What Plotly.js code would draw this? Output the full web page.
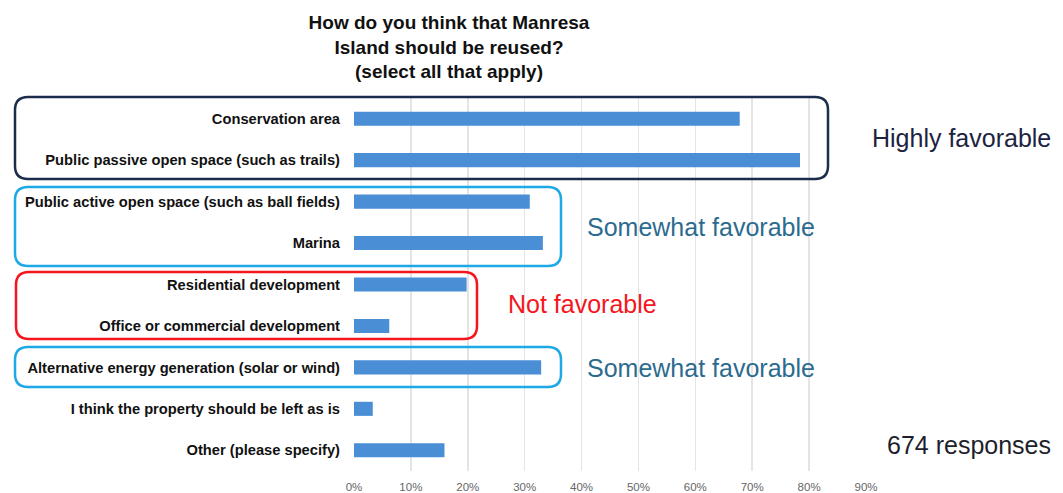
<!DOCTYPE html>
<html>
<head>
<meta charset="utf-8">
<script src="https://cdn.plot.ly/plotly-3.0.1.min.js"></script>
<style>html,body{margin:0;padding:0;background:#fff;}#chart{width:1063px;height:493px;}</style>
</head>
<body>
<div id="chart"></div>
<script>
// ---- data ----
const categories = [
  "Conservation area",
  "Public passive open space (such as trails)",
  "Public active open space (such as ball fields)",
  "Marina",
  "Residential development",
  "Office or commercial development",
  "Alternative energy generation (solar or wind)",
  "I think the property should be left as is",
  "Other (please specify)"
];
const percentValues = [67.8, 78.4, 30.9, 33.2, 19.8, 6.2, 32.9, 3.3, 15.9];
const tickValues = [0, 10, 20, 30, 40, 50, 60, 70, 80, 90];
const tickLabels = ["0%", "10%", "20%", "30%", "40%", "50%", "60%", "70%", "80%", "90%"];
const titleLines = ["How do you think that Manresa", "Island should be reused?", "(select all that apply)"];
const groupLabels = ["Highly favorable", "Somewhat favorable", "Not favorable", "Somewhat favorable"];
const responsesLabel = "674 responses";

// ---- layout geometry (pixels) ----
const W = 1063, H = 493;
const M = {l: 354, r: 197, t: 98, b: 22};
const PW = W - M.l - M.r, PH = H - M.t - M.b;
const px2x = p => (p - M.l) / PW;
const px2y = p => (H - M.b - p) / PH;

function roundRect(x0, y0, x1, y1, r) {
  const X0 = px2x(x0), X1 = px2x(x1), Y0 = px2y(y0), Y1 = px2y(y1);
  const rx = r / PW, ry = r / PH;
  return `M${X0+rx},${Y0} L${X1-rx},${Y0} Q${X1},${Y0} ${X1},${Y0-ry} ` +
         `L${X1},${Y1+ry} Q${X1},${Y1} ${X1-rx},${Y1} L${X0+rx},${Y1} ` +
         `Q${X0},${Y1} ${X0},${Y1+ry} L${X0},${Y0-ry} Q${X0},${Y0} ${X0+rx},${Y0} Z`;
}

const boxes = [
  {x0: 15, y0: 97, x1: 828, y1: 179, color: "#1b2d4b"},
  {x0: 15, y0: 187, x1: 561, y1: 266, color: "#1fa8e6"},
  {x0: 16, y0: 272, x1: 477, y1: 339, color: "#f4161c"},
  {x0: 15, y0: 347, x1: 561, y1: 387, color: "#1fa8e6"}
];
const shapes = boxes.map(b => ({
  type: "path", xref: "paper", yref: "paper",
  path: roundRect(b.x0, b.y0, b.x1, b.y1, 13),
  line: {color: b.color, width: 2.5}, layer: "above"
}));

const font = "Liberation Sans, Arial, Helvetica, sans-serif";
const labelPos = [
  {x: 870, y: 138, color: "#1c2340"},
  {x: 585, y: 227, color: "#2c6b8e"},
  {x: 506, y: 304, color: "#f4161c"},
  {x: 585, y: 368, color: "#2c6b8e"}
];
const annotations = groupLabels.map((t, i) => ({
  text: t, xref: "paper", yref: "paper",
  x: px2x(labelPos[i].x), y: px2y(labelPos[i].y),
  xanchor: "left", yanchor: "middle", showarrow: false,
  font: {family: font, size: 25, color: labelPos[i].color}
}));
annotations.push({
  text: responsesLabel, xref: "paper", yref: "paper",
  x: px2x(885), y: px2y(445), xanchor: "left", yanchor: "middle", showarrow: false,
  font: {family: font, size: 25, color: "#1e1f2c"}
});

const trace = {
  type: "bar", orientation: "h",
  y: categories, x: percentValues,
  width: 0.34,
  marker: {color: "#4a8ed6"},
  hoverinfo: "x+y"
};

const layout = {
  width: W, height: H,
  margin: M,
  paper_bgcolor: "#ffffff", plot_bgcolor: "#ffffff",
  showlegend: false,
  title: {
    text: titleLines.join("<br>"),
    x: 449 / W, xanchor: "center", xref: "container",
    y: 1 - 29 / H, yanchor: "top", yref: "container",
    font: {family: font, size: 19, color: "#111111", weight: "bold"}
  },
  xaxis: {
    range: [0, 90], tickvals: tickValues, ticktext: tickLabels,
    showgrid: true, gridcolor: "#e4e4e4", gridwidth: 1.5,
    zeroline: false, showline: false, ticks: "",
    ticklabelstandoff: 7,
    tickfont: {family: font, size: 11.5, color: "#666666"},
    fixedrange: true
  },
  yaxis: {
    type: "category", autorange: "reversed",
    showgrid: false, zeroline: false, showline: false, ticks: "",
    ticklabelstandoff: 13,
    tickfont: {family: font, size: 14.7, color: "#111111", weight: "bold"},
    fixedrange: true
  },
  shapes: shapes,
  annotations: annotations
};

Plotly.newPlot("chart", [trace], layout, {displayModeBar: false, staticPlot: true});
</script>
</body>
</html>
